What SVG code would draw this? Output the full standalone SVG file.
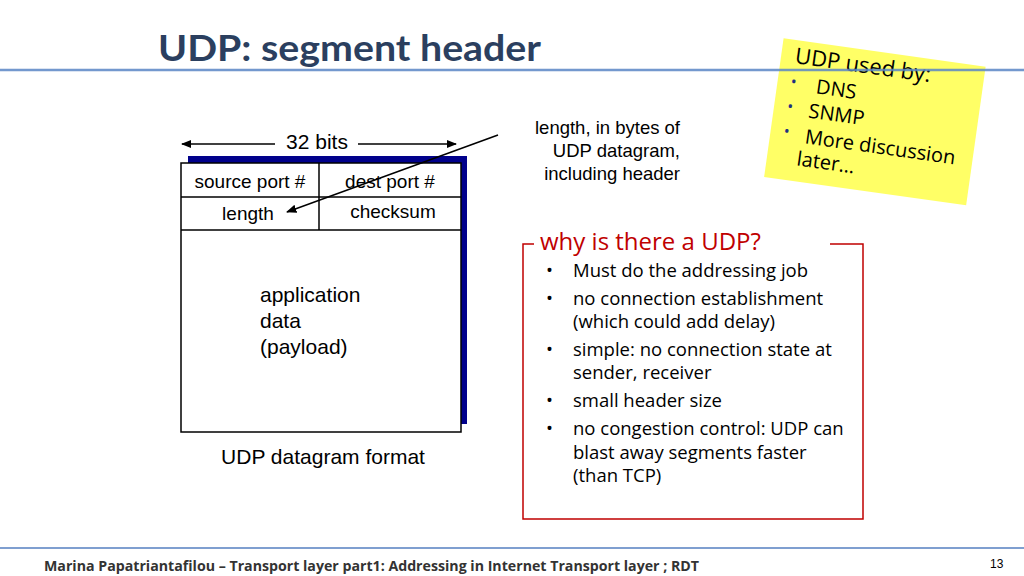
<svg xmlns="http://www.w3.org/2000/svg" width="1024" height="576" viewBox="0 0 1024 576">
<style>
.t{font-family:"Liberation Sans",Arial,sans-serif;fill:#000}
.c{font-family:"Open Sans","Liberation Sans",sans-serif;fill:#000}
.red{fill:#C00000}
.blu{fill:#1F3080}
.cell{fill:#fff;stroke:#000;stroke-width:1.5}
</style>
<defs><marker id="ah" viewBox="0 0 10 10" refX="9" refY="5" markerWidth="7" markerHeight="7" orient="auto-start-reverse"><path d="M0,1 L10,5 L0,9 z" fill="#000"/></marker></defs>
<rect width="1024" height="576" fill="#fff"/>
<text x="158" y="61" font-family="Lato,'Open Sans',sans-serif" font-weight="bold" font-size="36" fill="#2B3F5F" textLength="383" lengthAdjust="spacingAndGlyphs">UDP: segment header</text>
<line x1="0" y1="548" x2="1024" y2="548" stroke="#7F9FD0" stroke-width="2"/>
<text x="44" y="571" class="c" font-size="14" font-weight="bold" style="fill:#333" textLength="655" lengthAdjust="spacingAndGlyphs">Marina Papatriantafilou –  Transport layer part1: Addressing in Internet Transport layer ; RDT</text>
<text x="990" y="568" class="t" font-size="12">13</text>
<g id="datagram">
<rect x="188" y="156" width="279" height="268" fill="#00008B"/>
<rect x="181" y="163" width="280" height="269" class="cell"/>
<line x1="181" y1="197" x2="461" y2="197" stroke="#000" stroke-width="1.5"/>
<line x1="181" y1="230" x2="461" y2="230" stroke="#000" stroke-width="1.5"/>
<line x1="319" y1="163" x2="319" y2="230" stroke="#000" stroke-width="1.5"/>
<text x="250" y="188" class="t" font-size="19" text-anchor="middle">source port #</text>
<text x="390" y="188" class="t" font-size="19" text-anchor="middle">dest port #</text>
<text x="248" y="220" class="t" font-size="19" text-anchor="middle">length</text>
<text x="393" y="218" class="t" font-size="19" text-anchor="middle">checksum</text>
<text x="260" y="302" class="t" font-size="21">application</text>
<text x="260" y="328" class="t" font-size="21">data</text>
<text x="260" y="354" class="t" font-size="21">(payload)</text>
<text x="323" y="464" class="t" font-size="21" text-anchor="middle">UDP datagram format</text>
</g>
<g id="bits">
<text x="317" y="149" class="t" font-size="21" text-anchor="middle">32 bits</text>
</g>
<g id="connectors" stroke="#000" stroke-width="1.5" fill="none">
<line x1="275" y1="144" x2="182" y2="144" marker-end="url(#ah)"/>
<line x1="358" y1="144" x2="456" y2="144" marker-end="url(#ah)"/>
<line x1="498" y1="135" x2="287" y2="212" marker-end="url(#ah)"/>
</g>
<g id="lenlabel">
<text x="680" y="134" class="t" font-size="18.5" text-anchor="end">length, in bytes of</text>
<text x="680" y="157" class="t" font-size="18.5" text-anchor="end">UDP datagram,</text>
<text x="680" y="180" class="t" font-size="18.5" text-anchor="end">including header</text>
</g>
<g id="why">
<path d="M534,244 L523,244 L523,519 L863,519 L863,244 L830,244" fill="none" stroke="#C00000" stroke-width="1.5"/>
<text x="540" y="250" class="c red" font-size="24">why is there a UDP?</text>
<g class="c" font-size="18.5">
<text x="546" y="277">•</text><text x="573" y="277">Must do the addressing job</text>
<text x="546" y="305">•</text><text x="573" y="305">no connection establishment</text>
<text x="573" y="328">(which could add delay)</text>
<text x="546" y="356">•</text><text x="573" y="356">simple: no connection state at</text>
<text x="573" y="379">sender, receiver</text>
<text x="546" y="407">•</text><text x="573" y="407">small header size</text>
<text x="546" y="435">•</text><text x="573" y="435">no congestion control: UDP can</text>
<text x="573" y="459">blast away segments faster</text>
<text x="573" y="482">(than TCP)</text>
</g>
</g>
<g id="note" transform="rotate(8 876 121)">
<rect x="773" y="52" width="204" height="140" fill="#FFFF66"/>
<g font-family="'Open Sans','Liberation Sans',sans-serif" font-size="20" fill="#000">
<text x="787" y="75" font-size="22">UDP used by:</text>
<text x="786" y="99" class="blu" font-size="16">•</text><text x="812" y="102">DNS</text>
<text x="786" y="124" class="blu" font-size="16">•</text><text x="808" y="127">SNMP</text>
<text x="786" y="149" class="blu" font-size="16">•</text><text x="808" y="153">More discussion</text>
<text x="803" y="176">later…</text>
</g>
</g>
<line x1="0" y1="70" x2="1024" y2="70" stroke="#5B86C5" stroke-width="2.5" stroke-opacity="0.85"/>
</svg>
